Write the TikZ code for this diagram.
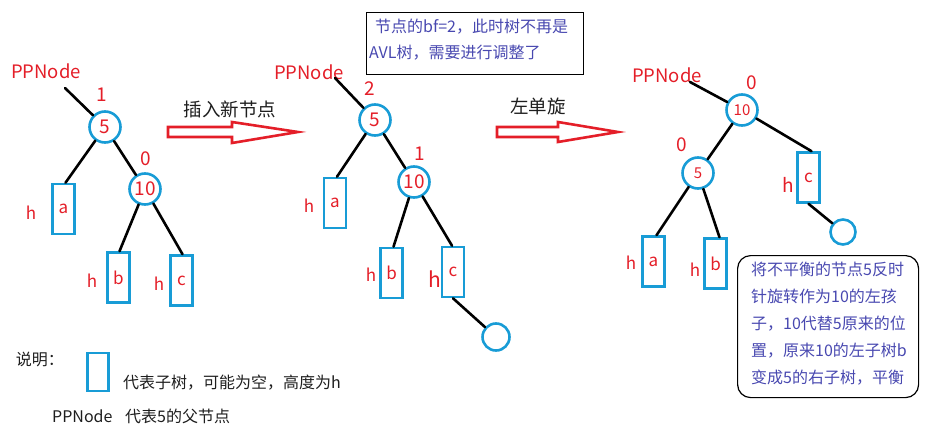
\documentclass[tikz,border=0pt]{standalone}
\usepackage{fontspec}
\setmainfont{Noto Sans CJK SC}
\usetikzlibrary{calc}
\definecolor{cred}{RGB}{228,30,40}
\definecolor{cblue}{RGB}{24,156,214}
\definecolor{cnote}{RGB}{72,72,176}
\definecolor{ctext}{RGB}{30,30,30}
\tikzset{
  fs/.style={font=\fontsize{#1}{#1}\selectfont},
  circ/.style={circle, draw=cblue, line width=2.6pt, minimum size=31pt, inner sep=0pt, text=cred, fs=19},
  circs/.style={circ, fs=15},
  sub/.style={rectangle, draw=cblue, line width=2.6pt, minimum width=22pt, minimum height=50pt, inner sep=0pt, text=cred, fs=17},
  edge/.style={line width=2.6pt, black, line cap=round},
  rlab/.style={text=cred, inner sep=0pt, fs=#1},
  rlab/.default=17,
  blockarrow/.style={draw=cred, line width=2.6pt, fill=white, line join=miter},
  biglab/.style={text=ctext, inner sep=0pt, fs=18.5},
  note/.style={text=cnote, inner sep=0pt, align=left, anchor=north west},
}
\begin{document}
\begin{tikzpicture}[x=1pt,y=-1pt]
\useasboundingbox (0,0) rectangle (933,428);

% ---------------- tree 1 ----------------
\node[rlab=18.5] (pp1) at (46,71) {PPNode};
\coordinate (p1) at (65,88);
\node[circ] (t1n5) at (105,127) {5};
\node[rlab=19] (t1bf5) at (102,95) {1};
\node[circ] (t1n10) at (145,189) {10};
\node[rlab=19] (t1bf10) at (146,159) {0};
\node[sub] (t1a) at (63.5,209) {a};
\node[sub] (t1b) at (118.5,277.5) {b};
\node[sub] (t1c) at (181.5,280.5) {c};
\node[rlab=17] (t1ha) at (31,213) {h};
\node[rlab=17] (t1hb) at (92,281) {h};
\node[rlab=17] (t1hc) at (159,284) {h};
\draw[edge] (p1) -- (t1n5);
\draw[edge] (t1n5) -- ($(t1a.north)+(2,0)$);
\draw[edge] (t1n5) -- (t1n10);
\draw[edge] (t1n10) -- ($(t1b.north)+(1,0)$);
\draw[edge] (t1n10) -- ($(t1c.north)+(1,0)$);

% ---------------- arrow 1 ----------------
\draw[blockarrow] (168,127) -- (232,127) -- (232,122) -- (298,132) -- (232,143) -- (232,137) -- (168,137) -- cycle;
\node[biglab] (lab1) at (230,109) {插入新节点};

% ---------------- tree 2 ----------------
\node[rlab=18.5] (pp2) at (309,72) {PPNode};
\coordinate (p2) at (335,78);
\node[circ] (t2n5) at (375,120) {5};
\node[rlab=19] (t2bf5) at (370,89) {2};
\node[circ] (t2n10) at (414,182) {10};
\node[rlab=19] (t2bf10) at (420,154) {1};
\node[sub] (t2a) at (335,203) {a};
\node[sub] (t2b) at (391.5,273) {b};
\node[sub] (t2c) at (453,272) {c};
\node[rlab=17] (t2ha) at (309,206) {h};
\node[rlab=17] (t2hb) at (371,275) {h};
\node[rlab=21] (t2hc) at (435,279) {h};
\node[circle, draw=cblue, line width=2.6pt, minimum size=27pt, inner sep=0pt] (t2new) at (496,337) {};
\draw[edge] (p2) -- (t2n5);
\draw[edge] (t2n5) -- ($(t2a.north)+(2,0)$);
\draw[edge] (t2n5) -- (t2n10);
\draw[edge] (t2n10) -- ($(t2b.north)+(2,0)$);
\draw[edge] (t2n10) -- ($(t2c.north)+(-1,0)$);
\draw[edge] (t2c.south) -- (t2new);

% note 1
\node[draw=black, line width=1.2pt, minimum width=217pt, minimum height=62pt, anchor=north west, inner sep=0pt] (note1box) at (366,12) {};
\node[note, fs=16] (note1a) at (375,19) {节点的bf=2，此时树不再是};
\node[note, fs=16] (note1b) at (369,45) {AVL树，需要进行调整了};

% ---------------- arrow 2 ----------------
\draw[blockarrow] (497,127) -- (558,127) -- (558,122) -- (618,132) -- (558,142) -- (558,137) -- (497,137) -- cycle;
\node[biglab] (lab2) at (538,106) {左单旋};

% ---------------- tree 3 ----------------
\node[rlab=18.5] (pp3) at (667,75) {PPNode};
\coordinate (p3) at (690,82);
\node[circs] (t3n10) at (742,110) {10};
\node[rlab=19] (t3bf10) at (752,83) {0};
\node[circs] (t3n5) at (698,173) {5};
\node[rlab=19] (t3bf5) at (682,145) {0};
\node[sub] (t3a) at (653.5,261.5) {a};
\node[sub] (t3b) at (715.5,263.5) {b};
\node[sub] (t3c) at (808.5,177.5) {c};
\node[rlab=17] (t3ha) at (631,263) {h};
\node[rlab=17] (t3hb) at (695,270) {h};
\node[rlab=19] (t3hc) at (788,185) {h};
\node[circle, draw=cblue, line width=2.6pt, minimum size=25pt, inner sep=0pt] (t3new) at (843,232) {};
\draw[edge] (p3) -- (t3n10);
\draw[edge] (t3n10) -- (t3n5);
\draw[edge] (t3n10) -- ($(t3c.north)+(3,0)$);
\draw[edge] (t3n5) -- ($(t3a.north)+(3,0)$);
\draw[edge] (t3n5) -- ($(t3b.north)+(4,0)$);
\draw[edge] (t3c.south) -- (t3new);

% note 2
\node[draw=black, line width=1.2pt, rounded corners=13pt, minimum width=181pt, minimum height=142pt, anchor=north west, inner sep=0pt] (note2box) at (737,255) {};
\node[note, font=\fontsize{16}{27}\selectfont] (note2) at (751,262) {将不平衡的节点5反时\\针旋转作为10的左孩\\子，10代替5原来的位\\置，原来10的左子树b\\变成5的右子树，平衡};

% ---------------- legend ----------------
\node[text=ctext, inner sep=0pt, fs=16] (leg1) at (40,359) {说明：};
\node[rectangle, draw=cblue, line width=2.6pt, minimum width=21pt, minimum height=38pt, inner sep=0pt] (legbox) at (98,372) {};
\node[text=ctext, inner sep=0pt, fs=16, anchor=west] (leg2) at (123,383) {代表子树，可能为空，高度为h};
\node[text=ctext, inner sep=0pt, fs=16, anchor=west] (leg3) at (52,416) {PPNode};
\node[text=ctext, inner sep=0pt, fs=16, anchor=west] (leg4) at (125,416) {代表5的父节点};
\end{tikzpicture}
\end{document}
